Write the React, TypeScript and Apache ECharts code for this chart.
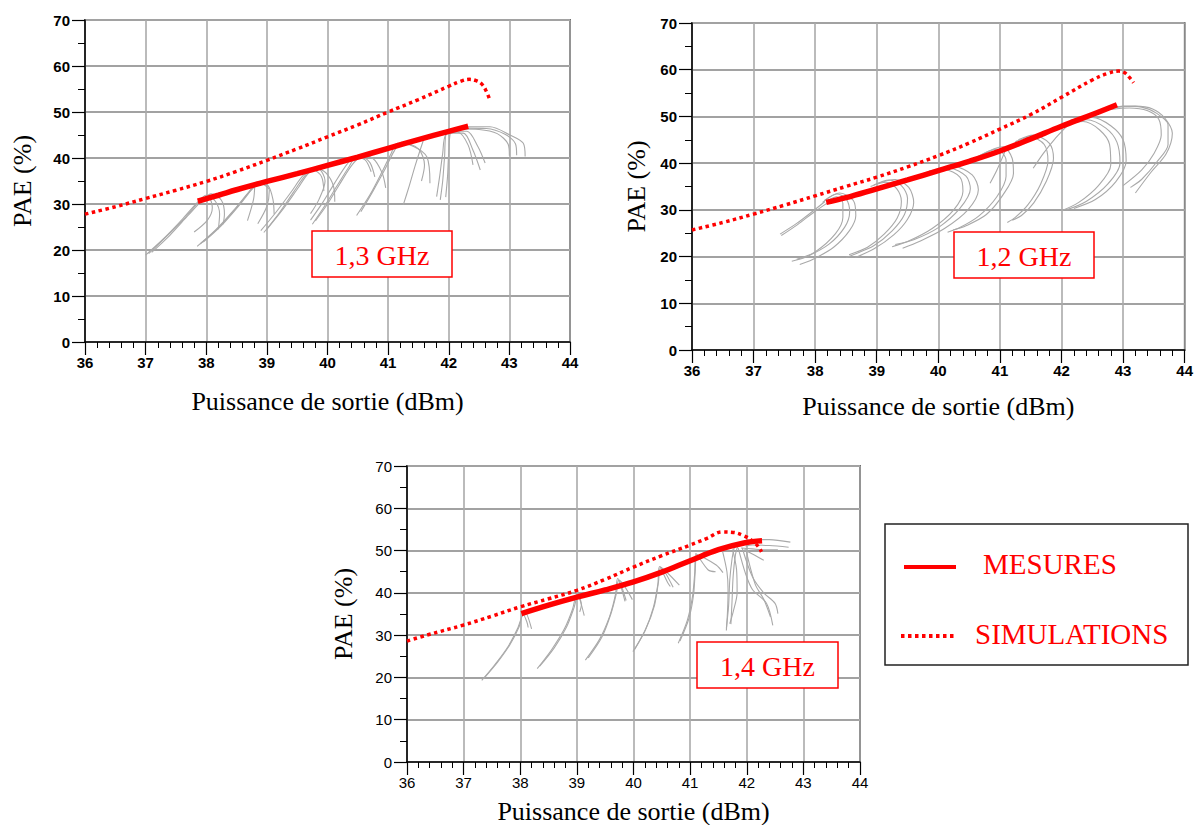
import React, { useEffect, useRef } from "react";
import * as echarts from "echarts";

// ---------- tick labels ----------
const xTickValues = [36, 37, 38, 39, 40, 41, 42, 43, 44];
const yTickValues = [0, 10, 20, 30, 40, 50, 60, 70];
const xAxisTitle = "Puissance de sortie (dBm)";
const yAxisTitle = "PAE (%)";
const freqLabels = ["1,3 GHz", "1,2 GHz", "1,4 GHz"];
const legendLabels = ["MESURES", "SIMULATIONS"];

// ---------- 1,3 GHz ----------
const sim13 = [[36, 27.8], [36.5, 29.4], [37, 31.2], [37.5, 33], [38, 34.9], [38.5, 37.1], [39, 39.5], [39.5, 42], [40, 44.6], [40.5, 47.2], [41, 50.0], [41.5, 52.7], [42, 55.6], [42.2, 56.7], [42.34, 57.1], [42.45, 56.8], [42.55, 56.0], [42.62, 54.5], [42.67, 52.9]];
const mes13 = [[37.86, 30.6], [38.2, 31.9], [38.5, 33.1], [39, 34.9], [39.5, 36.6], [40, 38.4], [40.5, 40.2], [41, 42.1], [41.5, 44.0], [42, 45.8], [42.32, 46.9]];
const gray13 = [
  [[37.0, 18.9], [37.3, 22.5], [37.6, 26.6], [37.85, 30.3], [38.0, 31.9], [38.15, 30.6], [38.22, 27.8], [38.2, 24.5]],
  [[37.05, 19.2], [37.35, 23.0], [37.65, 27.0], [37.9, 30.7], [38.04, 31.4], [38.1, 29.2], [38.02, 26.5], [37.8, 23.9]],
  [[37.1, 19.5], [37.4, 23.2], [37.7, 27.5], [37.95, 31.0], [38.08, 32.2], [38.25, 30.8], [38.3, 27.8], [38.28, 25.6]],
  [[37.85, 20.8], [38.15, 24.3], [38.45, 28.6], [38.7, 32.6], [38.85, 34.8], [39.02, 34.0], [39.1, 31.0], [39.12, 27.8]],
  [[37.9, 21.3], [38.2, 24.8], [38.5, 29.2], [38.74, 33.0], [38.9, 34.4], [39.04, 33.0], [39.0, 29.5], [38.85, 25.7]],
  [[37.95, 21.7], [38.25, 25.3], [38.55, 29.8], [38.76, 33.4], [38.8, 34.2], [38.78, 31.0], [38.68, 26.4]],
  [[38.95, 23.8], [39.2, 28.0], [39.45, 32.8], [39.65, 36.5], [39.8, 37.8], [39.97, 36.8], [40.1, 33.8], [40.12, 30.5]],
  [[39.0, 24.5], [39.25, 28.6], [39.5, 33.2], [39.7, 36.9], [39.85, 37.6], [39.96, 35.0], [39.86, 31.0], [39.72, 27.9]],
  [[38.9, 24.2], [39.15, 28.2], [39.4, 32.6], [39.6, 36.2], [39.76, 37.4], [39.9, 36.0], [39.94, 32.8]],
  [[39.75, 25.6], [39.95, 29.5], [40.15, 33.8], [40.35, 38.0], [40.5, 40.6], [40.74, 40.0], [40.9, 36.8], [40.96, 33.5]],
  [[39.8, 26.3], [40.0, 30.0], [40.2, 34.3], [40.4, 38.4], [40.56, 40.3], [40.7, 39.0], [40.78, 35.9]],
  [[39.72, 26.5], [39.92, 30.3], [40.12, 34.6], [40.32, 38.6], [40.45, 40.2], [40.62, 39.6], [40.72, 37.0]],
  [[40.48, 27.5], [40.7, 32.0], [40.9, 37.0], [41.05, 41.0], [41.15, 43.2], [41.42, 42.5], [41.64, 40.2], [41.69, 34.5]],
  [[40.55, 28.3], [40.75, 32.8], [40.95, 37.6], [41.1, 41.5], [41.22, 43.4], [41.5, 42.0], [41.6, 38.5], [41.55, 35.0]],
  [[41.25, 29.8], [41.35, 34.0], [41.45, 38.5], [41.58, 43.8]],
  [[41.86, 30.9], [41.9, 35.0], [41.93, 40.0], [41.97, 45.4], [42.24, 45.4], [42.4, 41.7], [42.52, 37.4]],
  [[41.8, 31.6], [41.85, 36.0], [41.9, 41.0], [41.95, 45.0], [42.15, 45.6], [42.32, 42.8], [42.4, 38.5]],
  [[41.95, 31.5], [41.98, 36.0], [42.0, 41.0], [42.05, 45.8], [42.3, 45.8], [42.48, 42.5], [42.6, 38.9]],
  [[42.3, 46.8], [42.68, 46.8], [43.01, 45.0], [43.23, 43.2], [43.26, 40.3]],
  [[42.28, 46.5], [42.62, 46.4], [42.92, 45.2], [43.1, 43.1], [43.12, 40.6]],
  [[42.2, 46.3], [42.5, 46.2], [42.8, 45.3], [42.98, 43.0], [43.0, 40.5]],
];

// ---------- 1,2 GHz ----------
const sim12 = [[36, 25.7], [36.5, 27.3], [37, 29.1], [37.5, 31.0], [38, 33.0], [38.5, 35.0], [39, 37.0], [39.5, 39.2], [40, 41.6], [40.5, 44.3], [41, 47.3], [41.5, 50.4], [42, 54.1], [42.5, 57.8], [42.75, 59.2], [42.93, 59.7], [43.02, 59.4], [43.1, 58.4], [43.17, 57.2]];
const mes12 = [[38.18, 31.6], [38.5, 32.6], [39, 34.5], [39.5, 36.4], [40, 38.4], [40.5, 40.4], [41, 42.6], [41.5, 45.2], [42, 47.9], [42.5, 50.4], [42.9, 52.5]];
const gray12 = [
  [[37.43, 24.8], [37.7, 27.1], [37.95, 29.6], [38.16, 31.8]],
  [[37.45, 24.5], [37.72, 26.9], [37.98, 29.5], [38.2, 31.5]],
  [[38.15, 32.0], [38.35, 33.4], [38.5, 32.4], [38.56, 29.6], [38.48, 26.3], [38.22, 22.6], [37.85, 19.9], [37.62, 19.0]],
  [[38.2, 32.0], [38.35, 32.8], [38.45, 31.4], [38.45, 28.4], [38.33, 24.9], [38.0, 21.0], [37.7, 19.4]],
  [[38.12, 31.6], [38.4, 33.6], [38.62, 32.0], [38.66, 28.8], [38.56, 25.6], [38.3, 22.0], [37.95, 19.3], [37.75, 18.3]],
  [[38.95, 35.3], [39.2, 36.4], [39.4, 35.2], [39.5, 32.5], [39.45, 29.0], [39.25, 25.5], [38.95, 22.3], [38.6, 20.3], [38.5, 19.8]],
  [[38.9, 35.0], [39.15, 35.9], [39.32, 34.6], [39.4, 31.8], [39.33, 28.2], [39.12, 24.8], [38.85, 22.0], [38.55, 20.4]],
  [[39.0, 35.6], [39.3, 36.5], [39.52, 34.8], [39.6, 31.6], [39.5, 28.0], [39.28, 24.7], [38.95, 21.6], [38.65, 19.8]],
  [[39.85, 38.3], [40.19, 38.9], [40.45, 37.2], [40.52, 34.5], [40.35, 30.3], [40.0, 26.2], [39.6, 23.6], [39.3, 22.6]],
  [[39.8, 38.0], [40.1, 38.6], [40.35, 37.0], [40.4, 34.0], [40.25, 30.0], [39.9, 26.0], [39.5, 23.2], [39.25, 22.1]],
  [[39.95, 38.6], [40.25, 39.3], [40.55, 37.5], [40.65, 34.3], [40.48, 30.0], [40.1, 26.0], [39.7, 23.3], [39.42, 21.8]],
  [[40.65, 41.5], [41.05, 43.5], [41.2, 41.0], [41.22, 37.8], [41.05, 33.2], [40.78, 29.0], [40.45, 26.6], [40.24, 25.7]],
  [[40.6, 41.0], [40.95, 43.0], [41.1, 40.6], [41.1, 37.2], [40.95, 32.8], [40.66, 28.7], [40.35, 26.2], [40.15, 25.2]],
  [[40.84, 35.7], [40.95, 38.5], [41.05, 41.5], [41.11, 43.5]],
  [[41.3, 45.0], [41.54, 46.0], [41.8, 44.3], [41.87, 41.0], [41.75, 36.0], [41.55, 31.5], [41.35, 28.8], [41.2, 27.8]],
  [[41.25, 44.6], [41.5, 45.6], [41.72, 44.0], [41.78, 40.5], [41.66, 35.5], [41.45, 31.0], [41.25, 28.4], [41.12, 27.3]],
  [[41.54, 38.9], [41.7, 42.0], [41.88, 45.0], [42.08, 47.8]],
  [[42.1, 48.8], [42.41, 49.3], [42.72, 47.5], [42.9, 44.5], [42.95, 40.0], [42.75, 35.5], [42.4, 31.8], [42.08, 30.0]],
  [[42.05, 48.4], [42.35, 48.9], [42.62, 47.1], [42.78, 44.0], [42.8, 39.6], [42.6, 35.2], [42.28, 31.6], [42.0, 29.8]],
  [[42.15, 49.2], [42.5, 49.8], [42.8, 48.0], [43.0, 45.0], [43.05, 40.5], [42.88, 36.0], [42.55, 32.2], [42.2, 30.3]],
  [[42.85, 51.8], [43.0, 52.2], [43.3, 52.0], [43.54, 50.7], [43.73, 48.2], [43.73, 44.0], [43.55, 40.3], [43.3, 36.5], [43.12, 34.8]],
  [[42.8, 51.5], [43.1, 51.8], [43.4, 51.2], [43.58, 49.4], [43.62, 46.0], [43.5, 42.0], [43.3, 38.5], [43.0, 35.2]],
  [[42.9, 52.0], [43.2, 52.2], [43.48, 51.6], [43.68, 49.6], [43.8, 46.4], [43.7, 42.0], [43.45, 38.0], [43.2, 33.6]],
];

// ---------- 1,4 GHz ----------
const sim14 = [[36, 28.6], [36.35, 30.0], [37, 32.4], [37.5, 34.5], [38, 36.7], [38.5, 38.6], [39, 40.6], [39.5, 43.2], [40, 46.1], [40.5, 48.8], [41, 51.3], [41.3, 52.9], [41.57, 54.4], [41.76, 54.3], [41.95, 53.5], [42.1, 52.3], [42.2, 51.0], [42.26, 49.7]];
const mes14 = [[38.02, 35.1], [38.5, 37.1], [39, 39.0], [39.5, 40.7], [40, 42.6], [40.5, 44.9], [41, 47.6], [41.5, 50.2], [41.95, 51.8], [42.27, 52.3]];
const gray14 = [
  [[37.32, 19.3], [37.55, 23.0], [37.78, 27.2], [37.95, 31.5], [38.08, 35.6], [38.2, 31.5]],
  [[37.36, 19.8], [37.6, 23.6], [37.82, 27.8], [37.98, 32.0], [38.05, 35.0], [38.12, 33.0], [38.14, 31.8]],
  [[38.3, 22.1], [38.55, 26.5], [38.78, 31.5], [38.92, 36.0], [39.0, 39.8], [39.13, 34.6]],
  [[38.34, 22.6], [38.6, 27.0], [38.82, 32.0], [38.95, 36.5], [39.02, 39.5], [39.08, 37.2], [39.05, 35.5]],
  [[39.15, 24.1], [39.4, 29.0], [39.58, 34.5], [39.68, 39.5], [39.72, 43.4], [39.87, 38.2]],
  [[39.2, 24.6], [39.44, 29.5], [39.6, 35.0], [39.7, 40.0], [39.74, 43.0], [39.98, 38.4]],
  [[39.74, 43.0], [39.8, 40.5], [39.85, 38.0]],
  [[39.99, 26.1], [40.2, 31.0], [40.35, 36.5], [40.43, 42.0], [40.46, 46.2], [40.81, 41.8]],
  [[40.02, 26.6], [40.22, 31.5], [40.37, 37.0], [40.44, 42.5], [40.48, 46.0], [40.7, 41.3]],
  [[40.48, 46.0], [40.6, 42.5], [40.65, 41.5]],
  [[40.79, 28.1], [40.95, 33.5], [41.04, 39.0], [41.08, 44.5], [41.1, 49.3], [41.32, 45.4], [41.45, 45.0]],
  [[40.82, 28.6], [40.98, 34.0], [41.06, 39.5], [41.09, 45.0], [41.12, 49.0], [41.46, 46.6], [41.58, 44.8]],
  [[41.64, 31.6], [41.68, 37.0], [41.7, 43.0], [41.74, 48.0], [41.78, 50.8]],
  [[41.72, 32.6], [41.74, 38.0], [41.76, 44.0], [41.8, 49.0], [41.84, 51.0]],
  [[41.57, 50.0], [41.65, 45.0], [41.67, 40.6], [41.66, 35.5], [41.64, 31.1]],
  [[41.75, 50.3], [41.82, 45.5], [41.83, 40.0], [41.76, 35.5], [41.7, 32.7]],
  [[41.85, 50.6], [41.98, 44.5], [42.1, 40.8], [42.35, 37.5], [42.46, 32.3]],
  [[41.92, 50.6], [42.1, 43.8], [42.3, 40.0], [42.5, 37.5], [42.55, 35.1]],
  [[41.98, 50.5], [42.15, 42.0], [42.3, 38.5], [42.42, 34.3]],
  [[41.95, 51.5], [42.08, 52.4], [42.4, 52.6], [42.77, 52.0]],
  [[41.98, 51.0], [42.1, 51.3], [42.4, 51.2], [42.74, 50.8]],
  [[41.9, 50.6], [42.1, 50.4], [42.3, 50.2], [42.55, 50.2]],
  [[41.95, 50.2], [42.1, 49.2], [42.3, 47.7]],
];

const panels = [
  { sim: sim13, mes: mes13, gray: gray13 },
  { sim: sim12, mes: mes12, gray: gray12 },
  { sim: sim14, mes: mes14, gray: gray14 },
];

// layout (pixels)
const gridBoxes = [
  { left: 85, top: 20, width: 485, height: 322 },
  { left: 692, top: 23, width: 493, height: 327 },
  { left: 407, top: 466, width: 453, height: 296 },
];
const xNameGaps = [46, 43, 36];
const yNameGaps = [50, 43, 51];
const labelWeights = ["bold", "bold", "normal"];
const freqBoxes = [
  { x: 312, y: 231, w: 140, h: 46 },
  { x: 954, y: 232, w: 140, h: 46 },
  { x: 697, y: 642, w: 141, h: 46 },
];

const RED = "#ff0000";
const GRAY = "#a9a9a9";
const SERIF = "'Liberation Serif', 'Times New Roman', serif";
const SANS = "'Liberation Sans', Arial, sans-serif";

function buildOption() {
  const xMin = xTickValues[0];
  const xMax = xTickValues[xTickValues.length - 1];
  const yMin = yTickValues[0];
  const yMax = yTickValues[yTickValues.length - 1];

  const grid = gridBoxes.map((g) => ({
    ...g,
    show: true,
    borderColor: "#000",
    borderWidth: 1.5,
    backgroundColor: "#fff",
  }));

  const xAxis = gridBoxes.map((_, i) => ({
    type: "value",
    gridIndex: i,
    min: xMin,
    max: xMax,
    interval: 1,
    name: xAxisTitle,
    nameLocation: "middle",
    nameGap: xNameGaps[i],
    nameTextStyle: { fontFamily: SERIF, fontSize: 26, color: "#000" },
    axisLine: { show: true, onZero: false, lineStyle: { color: "#000", width: 1.5 } },
    axisTick: { show: true, inside: false, length: 13, lineStyle: { color: "#000", width: 1.2 } },
    minorTick: { show: true, splitNumber: 5, length: 6, lineStyle: { color: "#000", width: 1 } },
    axisLabel: { margin: 13, fontFamily: SANS, fontSize: 15, fontWeight: labelWeights[i], color: "#000" },
    splitLine: { show: true, lineStyle: { color: "#aaaaaa", width: 1.6 } },
    minorSplitLine: { show: false },
  }));

  const yAxis = gridBoxes.map((_, i) => ({
    type: "value",
    gridIndex: i,
    min: yMin,
    max: yMax,
    interval: 10,
    name: yAxisTitle,
    nameLocation: "middle",
    nameGap: yNameGaps[i],
    nameTextStyle: { fontFamily: SERIF, fontSize: 26, color: "#000" },
    axisLine: { show: true, onZero: false, lineStyle: { color: "#000", width: 1.5 } },
    axisTick: { show: true, inside: false, length: 13, lineStyle: { color: "#000", width: 1.2 } },
    minorTick: { show: true, splitNumber: 2, length: 7, lineStyle: { color: "#000", width: 1 } },
    axisLabel: { margin: 15, fontFamily: SANS, fontSize: 15, fontWeight: labelWeights[i], color: "#000" },
    splitLine: { show: true, lineStyle: { color: "#a2a2a2", width: 2.2 } },
  }));

  const series: any[] = [];
  panels.forEach((p, i) => {
    p.gray.forEach((curve, k) => {
      series.push({
        type: "line",
        name: "contour-" + i + "-" + k,
        xAxisIndex: i,
        yAxisIndex: i,
        data: curve,
        showSymbol: false,
        smooth: 0.3,
        silent: true,
        lineStyle: { color: GRAY, width: 1.1 },
        z: 2,
      });
    });
    series.push({
      type: "line",
      name: legendLabels[1],
      xAxisIndex: i,
      yAxisIndex: i,
      data: p.sim,
      showSymbol: false,
      smooth: 0.4,
      lineStyle: { color: RED, width: 3.5, type: [3.5, 3.5], cap: "butt" },
      z: 3,
    });
    series.push({
      type: "line",
      name: legendLabels[0],
      xAxisIndex: i,
      yAxisIndex: i,
      data: p.mes,
      showSymbol: false,
      smooth: 0.4,
      lineStyle: { color: RED, width: 5.5 },
      z: 4,
    });
  });

  const graphic: any[] = [];
  freqBoxes.forEach((b, i) => {
    graphic.push({
      type: "rect",
      z: 100,
      shape: { x: b.x, y: b.y, width: b.w, height: b.h },
      style: { fill: "#fff", stroke: RED, lineWidth: 1.5 },
    });
    graphic.push({
      type: "text",
      z: 101,
      x: b.x + b.w / 2,
      y: b.y + b.h / 2 + 1,
      style: {
        text: freqLabels[i],
        fill: RED,
        font: "28px " + SERIF,
        align: "center",
        verticalAlign: "middle",
      },
    });
  });

  // legend box
  graphic.push({
    type: "rect",
    z: 100,
    shape: { x: 885, y: 524, width: 303, height: 141 },
    style: { fill: "#fff", stroke: "#222", lineWidth: 1.5 },
  });
  graphic.push({
    type: "line",
    z: 101,
    shape: { x1: 904, y1: 567, x2: 956, y2: 567 },
    style: { stroke: RED, lineWidth: 4 },
  });
  graphic.push({
    type: "text",
    z: 101,
    x: 983,
    y: 564,
    style: { text: legendLabels[0], fill: RED, font: "29px " + SERIF, align: "left", verticalAlign: "middle" },
  });
  graphic.push({
    type: "line",
    z: 101,
    shape: { x1: 901, y1: 636, x2: 955, y2: 636 },
    style: { stroke: RED, lineWidth: 4, lineDash: [3.5, 3.5] },
  });
  graphic.push({
    type: "text",
    z: 101,
    x: 975,
    y: 634,
    style: { text: legendLabels[1], fill: RED, font: "29px " + SERIF, align: "left", verticalAlign: "middle" },
  });

  return {
    animation: false,
    backgroundColor: "#fff",
    grid,
    xAxis,
    yAxis,
    series,
    graphic,
  };
}

export default function App() {
  const ref = useRef<HTMLDivElement>(null);
  useEffect(() => {
    document.body.style.margin = "0";
    if (!ref.current) return;
    const chart = echarts.init(ref.current, undefined, { renderer: "svg" });
    chart.setOption(buildOption() as any);
    return () => chart.dispose();
  }, []);
  return (
    <div
      ref={ref}
      style={{ position: "absolute", left: 0, top: 0, width: 1196, height: 825, background: "#fff" }}
    />
  );
}
